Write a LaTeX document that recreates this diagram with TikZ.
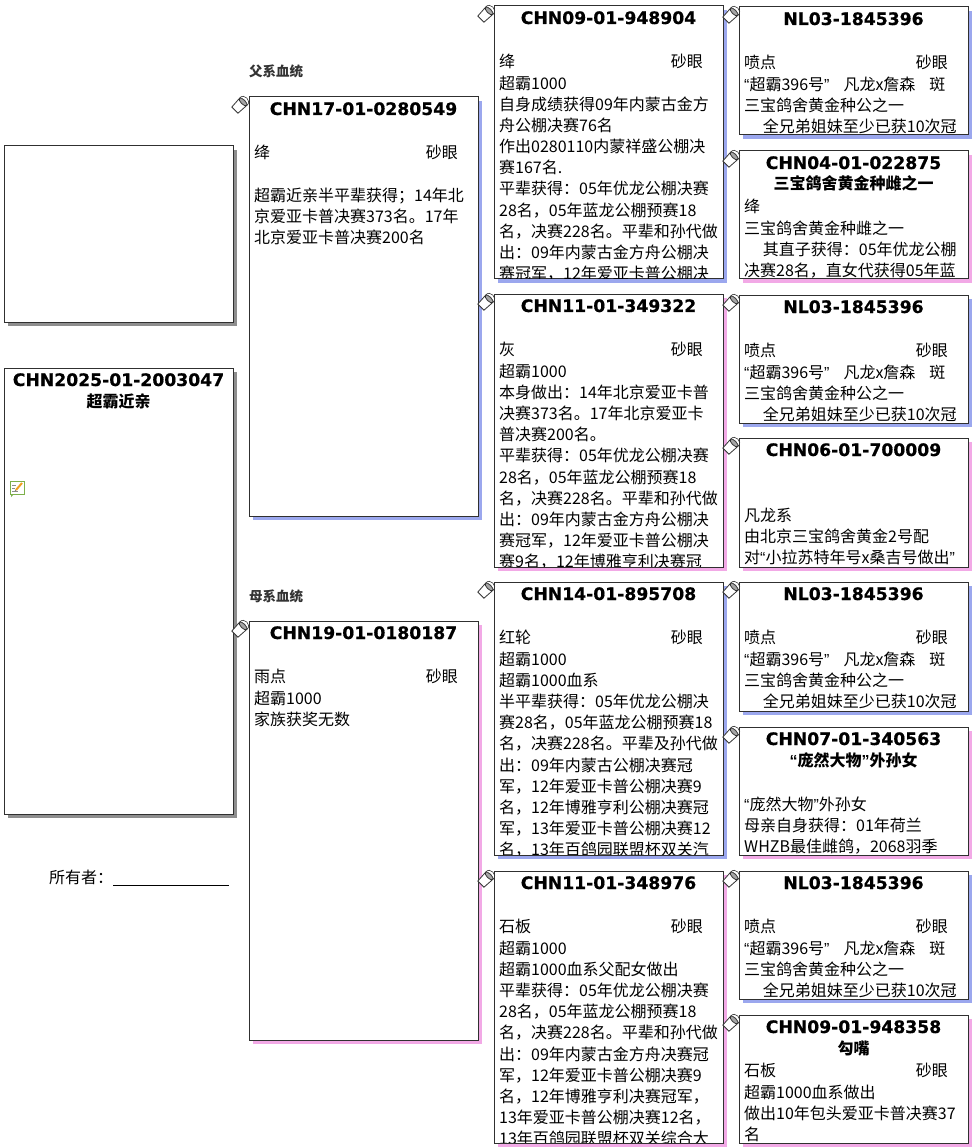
\documentclass[tikz,border=0pt]{standalone}
\usepackage{fontspec}
\setmainfont{Noto Sans CJK SC}
\newfontfamily\titlef{DejaVu Sans}[BoldFeatures={FakeBold=0.6}]
\newfontfamily\qf{Liberation Sans}
\definecolor{shblue}{HTML}{9BA7EE}
\definecolor{shpink}{HTML}{F2A9E6}
\definecolor{shgray}{HTML}{8E8E8E}
\definecolor{boxline}{HTML}{303030}
\definecolor{notegreen}{HTML}{7DB04A}
\definecolor{pencil}{HTML}{F0A020}
\newcommand\bodyfont{\fontsize{16}{21.1}\selectfont}
\newcommand\myqo{{\qf “}}
\newcommand\myqc{{\qf ”}}
\tikzset{
 pbox/.style={draw=boxline, line width=1pt, fill=white, inner sep=0pt, outer sep=0pt, anchor=north west},
 ttlst/.style={font={\titlef\bfseries\fontsize{17.2}{20}\selectfont}, inner sep=0pt, anchor=base},
 subst/.style={font={\bfseries\fontsize{16}{20}\selectfont}, inner sep=0pt, anchor=base},
 txtst/.style={font=\bodyfont, inner sep=0pt},
 lblst/.style={font={\bfseries\fontsize{13.5}{16}\selectfont}, text=black!80, inner sep=0pt, anchor=base west},
 iconline/.style={line width=0.8pt, draw=black!80},
}
\newcommand\bucket[2]{%
 \begin{scope}[shift={(#1,#2)}, rotate=-45, scale=1.45]
 \draw[iconline, fill=white] (-3.5,-3) -- (-3,5) -- (3,5) -- (3.5,-3) -- cycle;
 \draw[iconline, fill=black!35] (0,-3) ellipse (3.5 and 1.5);
 \draw[line width=0.6pt, draw=black!80] (-3.5,-3) .. controls (-4.5,-8) and (4.5,-8) .. (3.5,-3);
 \end{scope}}
\newcommand\pedbox[7]{%
 \def\bx{#2}\def\by{#3}\def\bxx{#4}\def\byy{#5}%
 \fill[#6] (#2+4,#3+4) rectangle (#4+4,#5+4);
 \node[pbox, minimum width=#4-#2, minimum height=#5-#3] (#1) at (#2,#3) {};
 \node[ttlst] (#1-t) at ({(#2+#4)/2},#3+18) {#7};}
\newcommand\subt[2]{\node[subst] (#1) at ({(\bx+\bxx)/2},\by+39) {#2};}
\newcommand\colline[3]{%
 \node[txtst, anchor=base west] (#1-l) at (\bx+5,\by+61.5) {#2};
 \node[txtst, anchor=base east] (#1-r) at (\bxx-20,\by+61.5) {#3};}
\newcommand\bodytext[3]{%
 \begin{scope}
 \clip (\bx,\by) rectangle (\bxx,\byy-0.6);
 \node[txtst, anchor=base west] (#1) at (\bx+5,\by+83.5+21.1*#2) {\parbox[t]{300pt}{\bodyfont #3}};
 \end{scope}}
\newcommand\nlbody[1]{%
 \colline{#1c}{喷点}{砂眼}
 \bodytext{#1b}{0}{\myqo 超霸396号\myqc\hspace{14pt}凡龙x詹森\hspace{14pt}斑\\
 三宝鸽舍黄金种公之一\\
 \hspace*{18.7pt}全兄弟姐妹至少已获10次冠}}
\begin{document}
\begin{tikzpicture}[x=1pt,y=-1pt]
\fill[white] (0,0) rectangle (974,1147);
\useasboundingbox (0,0) rectangle (974,1147);

% photo box and main box
\fill[shgray] (8,150) rectangle (237,326);
\node[pbox, minimum width=229, minimum height=176] (photo) at (4,146) {};
\pedbox{main}{4}{368}{233}{814}{shgray}{CHN2025-01-2003047}
\subt{main-s}{超霸近亲}
% note icon
\begin{scope}[shift={(17,488)}]
 \draw[line width=0.7pt, draw=notegreen, fill=white] (-7,-7) rectangle (7,6);
 \fill[notegreen] (-6,6) -- (-3,6) -- (-6,9) -- cycle;
 \draw[line width=0.6pt, draw=black!45] (-5,-3) -- (-1,-3) (-5,0) -- (-2,0) (-5,3) -- (1,3);
 \draw[line width=2pt, draw=pencil] (-1,2) -- (5,-5);
 \draw[line width=0.5pt, draw=black!60] (-2,3) -- (-1,2);
\end{scope}

\node[lblst] (lblf) at (249,77) {父系血统};
\node[lblst] (lblm) at (249,601) {母系血统};

% owner
\node[txtst, anchor=base west] (owner) at (49,883) {所有者：};
\coordinate (ul1) at (113,885);
\coordinate (ul2) at (229,885);
\draw[line width=1pt] (ul1) -- (ul2);

% generation 1
\pedbox{g1a}{249}{97}{478}{516}{shblue}{CHN17-01-0280549}
\bucket{240}{105}
\colline{g1ac}{绛}{砂眼}
\bodytext{g1ab}{1}{超霸近亲半平辈获得；14年北\\
京爱亚卡普决赛373名。17年\\
北京爱亚卡普决赛200名}

\pedbox{g1b}{249}{621}{478}{1040}{shpink}{CHN19-01-0180187}
\bucket{240}{629}
\colline{g1bc}{雨点}{砂眼}
\bodytext{g1bb}{0}{超霸1000\\
家族获奖无数}

% generation 2
\pedbox{g2a}{494}{6}{723}{279}{shblue}{CHN09-01-948904}
\bucket{486}{14}
\colline{g2ac}{绛}{砂眼}
\bodytext{g2ab}{0}{超霸1000\\
自身成绩获得09年内蒙古金方\\
舟公棚决赛76名\\
作出0280110内蒙祥盛公棚决\\
赛167名.\\
平辈获得：05年优龙公棚决赛\\
28名，05年蓝龙公棚预赛18\\
名，决赛228名。平辈和孙代做\\
出：09年内蒙古金方舟公棚决\\
赛冠军，12年爱亚卡普公棚决}

\pedbox{g2b}{494}{294}{723}{567}{shpink}{CHN11-01-349322}
\bucket{486}{302}
\colline{g2bc}{灰}{砂眼}
\bodytext{g2bb}{0}{超霸1000\\
本身做出：14年北京爱亚卡普\\
决赛373名。17年北京爱亚卡\\
普决赛200名。\\
平辈获得：05年优龙公棚决赛\\
28名，05年蓝龙公棚预赛18\\
名，决赛228名。平辈和孙代做\\
出：09年内蒙古金方舟公棚决\\
赛冠军，12年爱亚卡普公棚决\\
赛9名，12年博雅亨利决赛冠}

\pedbox{g2c}{494}{582}{723}{855}{shblue}{CHN14-01-895708}
\bucket{486}{590}
\colline{g2cc}{红轮}{砂眼}
\bodytext{g2cb}{0}{超霸1000\\
超霸1000血系\\
半平辈获得：05年优龙公棚决\\
赛28名，05年蓝龙公棚预赛18\\
名，决赛228名。平辈及孙代做\\
出：09年内蒙古公棚决赛冠\\
军，12年爱亚卡普公棚决赛9\\
名，12年博雅亨利公棚决赛冠\\
军，13年爱亚卡普公棚决赛12\\
名，13年百鸽园联盟杯双关汽}

\pedbox{g2d}{494}{871}{723}{1143}{shpink}{CHN11-01-348976}
\bucket{486}{879}
\colline{g2dc}{石板}{砂眼}
\bodytext{g2db}{0}{超霸1000\\
超霸1000血系父配女做出\\
平辈获得：05年优龙公棚决赛\\
28名，05年蓝龙公棚预赛18\\
名，决赛228名。平辈和孙代做\\
出：09年内蒙古金方舟决赛冠\\
军，12年爱亚卡普公棚决赛9\\
名，12年博雅亨利决赛冠军，\\
13年爱亚卡普公棚决赛12名，\\
13年百鸽园联盟杯双关综合大}

% generation 3
\pedbox{g3a}{739}{7}{968}{135}{shblue}{NL03-1845396}
\bucket{731}{15}
\nlbody{g3a}

\pedbox{g3b}{739}{151}{968}{279}{shpink}{CHN04-01-022875}
\bucket{731}{159}
\subt{g3b-s}{三宝鸽舍黄金种雌之一}
\node[txtst, anchor=base west] (g3bc) at (\bx+5,\by+61.5) {绛};
\bodytext{g3bb}{0}{三宝鸽舍黄金种雌之一\\
\hspace*{18.7pt}其直子获得：05年优龙公棚\\
决赛28名，直女代获得05年蓝}

\pedbox{g3c}{739}{295}{968}{423}{shblue}{NL03-1845396}
\bucket{731}{303}
\nlbody{g3c}

\pedbox{g3d}{739}{438}{968}{567}{shpink}{CHN06-01-700009}
\bucket{731}{446}
\bodytext{g3db}{0}{凡龙系\\
由北京三宝鸽舍黄金2号配\\
对\myqo 小拉苏特年号x桑吉号做出\myqc}

\pedbox{g3e}{739}{582}{968}{711}{shblue}{NL03-1845396}
\bucket{731}{590}
\nlbody{g3e}

\pedbox{g3f}{739}{727}{968}{855}{shpink}{CHN07-01-340563}
\bucket{731}{735}
\subt{g3f-s}{\myqo 庞然大物\myqc 外孙女}
\bodytext{g3fb}{0}{\myqo 庞然大物\myqc 外孙女\\
母亲自身获得：01年荷兰\\
WHZB最佳雌鸽，2068羽季}

\pedbox{g3g}{739}{871}{968}{999}{shblue}{NL03-1845396}
\bucket{731}{879}
\nlbody{g3g}

\pedbox{g3h}{739}{1015}{968}{1143}{shpink}{CHN09-01-948358}
\bucket{731}{1023}
\subt{g3h-s}{勾嘴}
\colline{g3hc}{石板}{砂眼}
\bodytext{g3hb}{0}{超霸1000血系做出\\
做出10年包头爱亚卡普决赛37\\
名}
\end{tikzpicture}
\end{document}
